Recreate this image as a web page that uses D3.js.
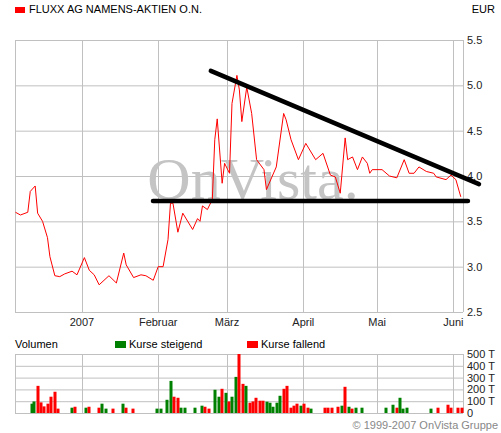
<!DOCTYPE html>
<html><head><meta charset="utf-8">
<script src="https://cdn.jsdelivr.net/npm/d3@7"></script>
<style>body{margin:0;background:#fff}text{font-family:"Liberation Sans",Arial,sans-serif}</style>
</head><body><svg id="c" width="501" height="433"></svg>
<script>
// day numbers relative to 2007-01-01
const priceDays = [-27,-25,-22,-21,-19,-18,-16,-14,-13,-11,-9,-7,-4,-2,1,3,5,7,11,14,17,18,21,24,26,29,31,33,35,36,37,39,41,45,47,48,49,51,53,54,55,57,58,60,61,63,64,65,67,69,71,74,75,79,82,83,85,88,91,95,98,101,103,105,107,108,110,112,114,116,117,118,122,125,128,131,133,135,137,140,143,144,148,150,152,154];
const priceVals = [3.60,3.57,3.60,3.83,3.89,3.59,3.50,3.32,3.11,2.90,2.89,2.92,2.95,2.91,3.10,2.96,2.91,2.80,2.90,2.82,3.15,3.02,2.88,2.91,2.90,2.85,3.00,3.00,3.30,3.70,3.70,3.38,3.59,3.41,3.53,3.50,3.67,3.63,3.74,4.40,4.63,3.92,4.14,4.03,4.80,5.11,4.95,4.60,4.98,4.69,4.18,4.07,3.85,4.10,4.69,4.62,4.40,4.18,4.36,4.18,4.25,4.01,3.99,3.81,4.42,4.18,4.21,4.07,4.21,4.14,4.03,4.07,4.07,4.00,3.98,4.18,4.03,4.03,4.10,4.05,4.03,3.99,3.96,4.01,3.96,3.77];
const volDays = [-20.4,-19.4,-17.8,-16.7,-15.4,-13.7,-12.5,-10.9,-9.8,-3.9,-2.7,1.5,3.0,7.0,8.3,9.9,12.7,16.8,18.0,20.9,30.6,32.2,34.7,36.3,37.5,39.1,40.4,42.0,46.1,48.9,50.1,51.7,54.2,55.8,57.0,58.7,59.9,61.1,62.7,63.9,65.6,66.8,68.4,69.6,70.9,72.5,73.7,75.3,76.5,77.8,79.4,80.6,82.2,83.5,85.1,86.3,87.5,89.1,90.4,92.0,93.2,98.9,100.1,101.7,104.2,105.8,107.0,108.7,109.9,111.5,113.9,123.7,126.5,128.2,129.4,130.6,132.2,142.0,144.9,148.9,150.1,153.0,154.6];
const volVals = [79,98,230,90,56,79,138,180,37,45,53,45,53,45,79,37,37,79,45,37,37,37,112,272,138,129,45,45,45,62,53,37,197,138,205,171,98,138,306,500,247,230,87,98,129,104,104,96,87,53,87,146,205,230,45,62,79,62,79,45,37,45,45,45,53,62,222,53,37,45,45,45,70,45,129,37,45,37,45,70,45,45,45];
const volUp = "ggrrrrrrrgrgrrggrgrrggggrrgggg rrgg rgrggrrgrrrrrgggggrrrrrgrrgrrrrgrgrggggrggggrr".replace(/ /g,"");
const monthDays = [0,31,59,90,120,151];
const monthLabels = ["2007","Februar","März","April","Mai","Juni"];
const priceTicks = [2.5,3.0,3.5,4.0,4.5,5.0,5.5];
const volTicks = [0,100,200,300,400,500];
const volTickLabels = ["0","100 T","200 T","300 T","400 T","500 T"];
const resistance = [[52.4,5.16],[161.4,3.91]];
const support = [[28.9,3.725],[156.9,3.725]];

const svg = d3.select("#c");
const x = d3.scaleLinear().domain([-27.2,154.9]).range([15,463]);
const y = d3.scaleLinear().domain([2.5,5.5]).range([312,40]);
const yv = d3.scaleLinear().domain([0,500]).range([413,354]);
const grid="#c0c0c0";

function panel(yScale, ticks, labels, y0, y1){
  const g = svg.append("g");
  g.selectAll(".h").data(ticks).join("line").attr("x1",15).attr("x2",463)
    .attr("y1",d=>yScale(d)+0.5).attr("y2",d=>yScale(d)+0.5).attr("stroke",grid);
  g.selectAll(".v").data(monthDays).join("line").attr("y1",y0).attr("y2",y1)
    .attr("x1",d=>Math.round(x(d))+0.5).attr("x2",d=>Math.round(x(d))+0.5).attr("stroke",grid);
  g.append("line").attr("x1",15.5).attr("x2",15.5).attr("y1",y0).attr("y2",y1).attr("stroke",grid);
  g.append("line").attr("x1",463.5).attr("x2",463.5).attr("y1",y0).attr("y2",y1).attr("stroke",grid);
  g.selectAll(".t").data(ticks).join("text").attr("x",467).attr("y",d=>yScale(d)+4)
    .attr("font-size",11).attr("fill","#222").text((d,i)=>labels[i]);
}
panel(y, priceTicks, priceTicks.map(d=>d.toFixed(1)), 40, 312);
panel(yv, volTicks, volTickLabels, 354, 413);

svg.selectAll(".ml").data(monthDays).join("text").attr("x",d=>x(d)).attr("y",326)
  .attr("text-anchor","middle").attr("font-size",11).attr("fill","#222").text((d,i)=>monthLabels[i]);

svg.append("text").attr("x",253).attr("y",199).attr("text-anchor","middle")
  .style("font-family","'Liberation Serif','DejaVu Serif',serif").attr("font-size",60)
  .attr("fill","#c4c4c4").text("OnVista.");

const pts = priceDays.map((d,i)=>[d,priceVals[i]]);
svg.append("path").datum(pts).attr("fill","none").attr("stroke","#ff0000").attr("stroke-width",1)
  .attr("d",d3.line().x(d=>x(d[0])).y(d=>y(d[1])));

[resistance,support].forEach(l=>svg.append("path").datum(l).attr("stroke","#000").attr("stroke-width",4.5)
  .attr("stroke-linecap","round").attr("d",d3.line().x(d=>x(d[0])).y(d=>y(d[1]))));

svg.selectAll(".vb").data(volDays).join("rect")
  .attr("x",d=>Math.round(x(d))-1.5).attr("width",3)
  .attr("y",(d,i)=>yv(volVals[i])).attr("height",(d,i)=>413-yv(volVals[i]))
  .attr("fill",(d,i)=>volUp[i]==="g"?"#008000":"#ff0000");

svg.append("rect").attr("x",15).attr("y",7).attr("width",10).attr("height",6).attr("fill","#ff0000");
svg.append("text").attr("x",29).attr("y",13).attr("font-size",11).attr("fill","#000").text("FLUXX AG NAMENS-AKTIEN O.N.");
svg.append("text").attr("x",495).attr("y",13).attr("text-anchor","end").attr("font-size",11).text("EUR");
svg.append("text").attr("x",15).attr("y",348).attr("font-size",11).text("Volumen");
svg.append("rect").attr("x",115).attr("y",341).attr("width",11).attr("height",7).attr("fill","#008000");
svg.append("text").attr("x",129).attr("y",348).attr("font-size",11).text("Kurse steigend");
svg.append("rect").attr("x",247).attr("y",341).attr("width",11).attr("height",7).attr("fill","#ff0000");
svg.append("text").attr("x",261).attr("y",348).attr("font-size",11).text("Kurse fallend");
svg.append("text").attr("x",498).attr("y",429).attr("text-anchor","end").attr("font-size",11).attr("fill","#888").text("© 1999-2007 OnVista Gruppe");
</script></body></html>
